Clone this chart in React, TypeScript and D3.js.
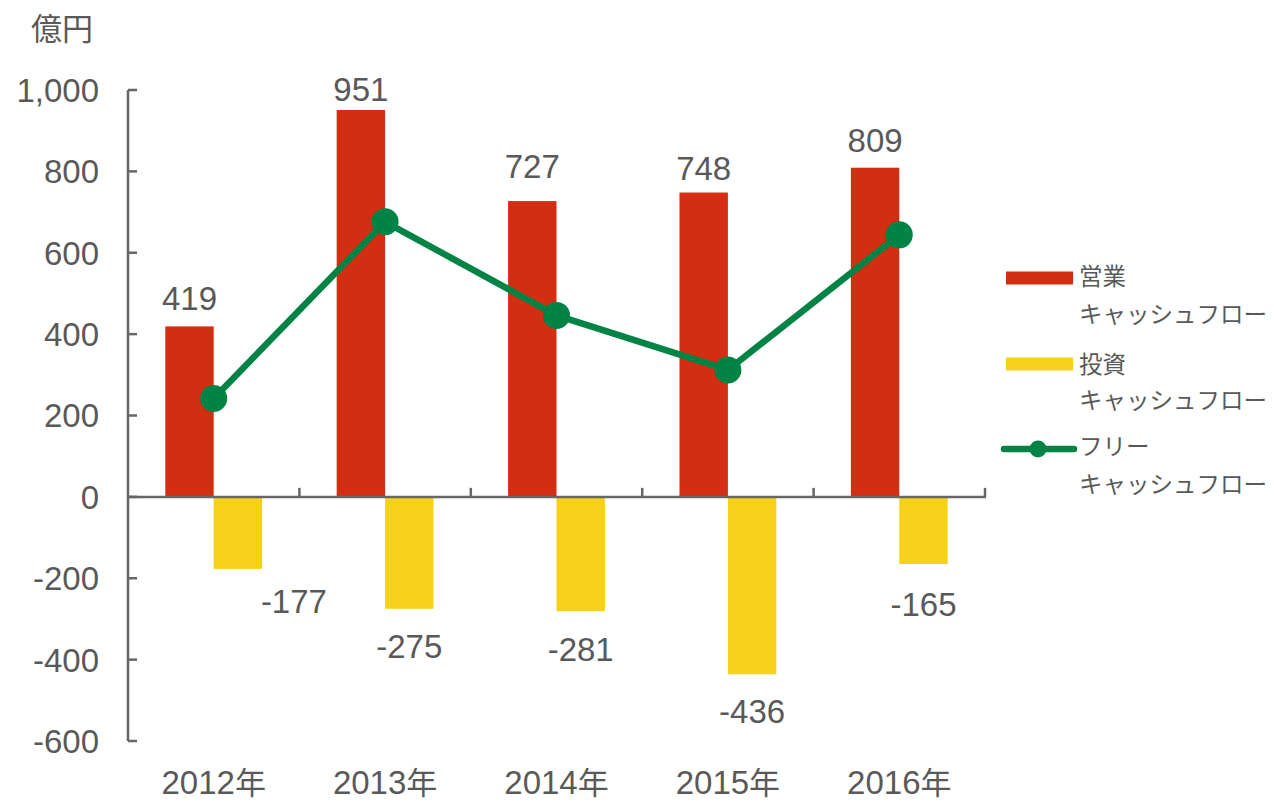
import React from "react";
import * as d3 from "d3";

const categories = ["2012年", "2013年", "2014年", "2015年", "2016年"];
const operatingCF = [419, 951, 727, 748, 809];
const investingCF = [-177, -275, -281, -436, -165];
const freeCF = operatingCF.map((v, i) => v + investingCF[i]);
const yTicks = [-600, -400, -200, 0, 200, 400, 600, 800, 1000];
const unitLabel = "億円";
const legendItems = [
  { line1: "営業", line2: "キャッシュフロー", kind: "bar", color: "#D42E12" },
  { line1: "投資", line2: "キャッシュフロー", kind: "bar", color: "#F6D11A" },
  { line1: "フリー", line2: "キャッシュフロー", kind: "line", color: "#008345" },
];

const RED = "#D42E12";
const YELLOW = "#F6D11A";
const GREEN = "#008345";
const AXIS = "#666666";
const TEXT = "#595959";
const NUM_FONT = "'Liberation Sans', Arial, sans-serif";
const JP_FONT = "'Noto Sans CJK JP', 'Noto Sans', sans-serif";

// label placement tweaks (pixels), mirroring the manual placement of the reference
const posGap = [16, 9, 23, 13, 16];
const negGap = [20, 25, 26, 25, 28];
const negDx = [56, 0, 0, 0, 0];
// legend geometry (pixels)
const legendMarkY = [278, 364, 449];
const legendLine1Y = [277, 365, 447];
const legendLine2Y = [315, 401, 485];

const fmt = (t: number) => d3.format(",")(t).replace("−", "-");

export default function App() {
  const W = 1274;
  const H = 802;
  const x = d3.scaleBand<string>().domain(categories).range([128, 985]).padding(0);
  const y = d3.scaleLinear().domain([-600, 1000]).range([741, 90]);
  const bw = x.bandwidth();
  const barW = bw * 0.2825;
  const y0 = y(0);
  const cx = (c: string) => (x(c) as number) + bw / 2;
  const line = d3
    .line<number>()
    .x((_, i) => cx(categories[i]))
    .y((d) => y(d));

  const numStyle = { fontFamily: NUM_FONT, fontSize: 33, fill: TEXT } as const;

  return (
    <div style={{ position: "absolute", left: 0, top: 0 }}>
      <svg width={W} height={H} style={{ display: "block", background: "#fff" }}>
        {/* unit label */}
        <text x={31} y={29} dy="0.35em" style={{ fontFamily: JP_FONT, fontSize: 31, fill: TEXT }}>
          {unitLabel}
        </text>

        {/* bars */}
        {categories.map((c, i) => (
          <g key={c}>
            <rect x={cx(c) - barW} y={y(operatingCF[i])} width={barW} height={y0 - y(operatingCF[i])} fill={RED} />
            <rect x={cx(c)} y={y0} width={barW} height={y(investingCF[i]) - y0} fill={YELLOW} />
          </g>
        ))}

        {/* y axis */}
        <line x1={128} x2={128} y1={y(1000)} y2={y(-600)} stroke={AXIS} strokeWidth={2.5} />
        {yTicks.map((t) => (
          <g key={t}>
            <line x1={128} x2={137} y1={y(t)} y2={y(t)} stroke={AXIS} strokeWidth={2.5} />
            <text x={99} y={y(t)} dy="0.36em" textAnchor="end" style={numStyle}>
              {fmt(t)}
            </text>
          </g>
        ))}

        {/* x axis */}
        <line x1={127} x2={986} y1={y0} y2={y0} stroke={AXIS} strokeWidth={2.5} />
        {categories.map((c) => (
          <line key={c} x1={(x(c) as number) + bw} x2={(x(c) as number) + bw} y1={y0} y2={y0 - 9} stroke={AXIS} strokeWidth={2.5} />
        ))}
        {categories.map((c) => (
          <text key={c} x={cx(c)} y={794} textAnchor="middle" style={{ ...numStyle }}>
            {c.replace("年", "")}
            <tspan style={{ fontFamily: JP_FONT, fontSize: 31 }}>年</tspan>
          </text>
        ))}

        {/* free cash flow line */}
        <path d={line(freeCF) as string} fill="none" stroke={GREEN} strokeWidth={6.5} strokeLinejoin="round" />
        {freeCF.map((v, i) => (
          <circle key={i} cx={cx(categories[i])} cy={y(v)} r={13.5} fill={GREEN} />
        ))}

        {/* data labels */}
        {operatingCF.map((v, i) => (
          <text key={"p" + i} x={cx(categories[i]) - barW / 2} y={y(v) - posGap[i]} textAnchor="middle" style={numStyle}>
            {fmt(v)}
          </text>
        ))}
        {investingCF.map((v, i) => (
          <text key={"n" + i} x={cx(categories[i]) + barW / 2 + negDx[i]} y={y(v) + negGap[i] + 24} textAnchor="middle" style={numStyle}>
            {fmt(v)}
          </text>
        ))}

        {/* legend */}
        {legendItems.map((it, i) => (
          <g key={i}>
            {it.kind === "bar" ? (
              <rect x={1006} y={legendMarkY[i] - 6.5} width={67} height={13} fill={it.color} />
            ) : (
              <g>
                <line x1={1004} x2={1074} y1={legendMarkY[i]} y2={legendMarkY[i]} stroke={it.color} strokeWidth={6.5} strokeLinecap="round" />
                <circle cx={1038} cy={legendMarkY[i]} r={8.5} fill={it.color} />
              </g>
            )}
            <text x={1079} y={legendLine1Y[i]} dy="0.35em" style={{ fontFamily: JP_FONT, fontSize: 23.5, fill: TEXT }}>
              {it.line1}
            </text>
            <text x={1079} y={legendLine2Y[i]} dy="0.35em" style={{ fontFamily: JP_FONT, fontSize: 23.5, fill: TEXT }}>
              {it.line2}
            </text>
          </g>
        ))}
      </svg>
    </div>
  );
}
